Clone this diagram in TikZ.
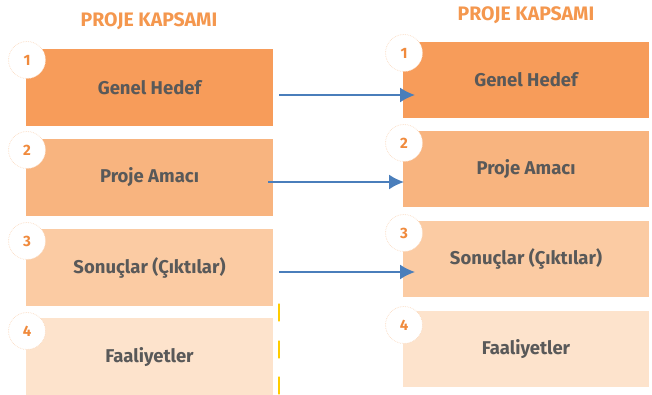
\documentclass[tikz,border=0pt]{standalone}
\usepackage{fontspec}
\setmainfont{Fira Sans}
\usetikzlibrary{arrows.meta}
\definecolor{c1}{HTML}{F79C5A}
\definecolor{c2}{HTML}{F8B47F}
\definecolor{c3}{HTML}{FBCBA3}
\definecolor{c4}{HTML}{FDE3CC}
\definecolor{ttl}{HTML}{F4974E}
\definecolor{txt}{HTML}{595959}
\definecolor{num}{HTML}{F08A3C}
\definecolor{arr}{HTML}{4A7EBB}
\definecolor{ylw}{HTML}{FFCC00}
\begin{document}
\begin{tikzpicture}[x=1pt,y=-1pt,
  box/.style={draw=none,minimum width=247pt,minimum height=77pt,inner sep=0pt,
    font=\fontsize{18.5}{21}\selectfont\bfseries,text=txt},
  numc/.style={circle,fill=white,draw=ttl!35,densely dotted,line width=0.7pt,
    minimum size=37pt,inner sep=0pt,font=\fontsize{15}{17}\selectfont\bfseries,text=num},
  ttlf/.style={font=\fontsize{19.5}{22}\selectfont\bfseries,text=ttl},
  conn/.style={draw=arr,line width=1.7pt,-{Latex[length=15pt,width=15pt]}}]
\useasboundingbox (0,0) rectangle (652,395);
% left column
\node[ttlf] (tl) at (149,21) {PROJE KAPSAMI};
\node[box,fill=c1] (l1) at (149.5,87.5) {Genel Hedef};
\node[box,fill=c2] (l2) at (149.5,177.5) {Proje Amacı};
\node[box,fill=c3] (l3) at (149.5,267.5) {Sonuçlar (Çıktılar)};
\node[box,fill=c4,minimum height=78pt] (l4) at (149.5,357) {Faaliyetler};
\node[numc] (n1) at (27,60) {1};
\node[numc] (n2) at (27,150) {2};
\node[numc] (n3) at (27,241) {3};
\node[numc] (n4) at (27,331) {4};
% right column
\node[ttlf] (tr) at (526,15) {PROJE KAPSAMI};
\node[box,fill=c1,minimum width=246pt,minimum height=76pt] (r1) at (526,80) {Genel Hedef};
\node[box,fill=c2,minimum width=246pt,minimum height=76pt] (r2) at (526,169) {Proje Amacı};
\node[box,fill=c3,minimum width=246pt,minimum height=76pt] (r3) at (526,259) {Sonuçlar (Çıktılar)};
\node[box,fill=c4,minimum width=246pt,minimum height=76pt] (r4) at (526,349) {Faaliyetler};
\node[numc] (m1) at (404,53) {1};
\node[numc] (m2) at (404,143) {2};
\node[numc] (m3) at (404,233) {3};
\node[numc] (m4) at (404,325) {4};
% connectors
\coordinate (a1) at (279,95);
\coordinate (b1) at (415,95);
\coordinate (a2) at (268,182);
\coordinate (b2) at (404,182);
\coordinate (a3) at (279,272);
\coordinate (b3) at (415,272);
\draw[conn] (a1) -- (b1);
\draw[conn] (a2) -- (b2);
\draw[conn] (a3) -- (b3);
% small yellow marks
\draw[ylw,line width=1.2pt,line cap=round] (279,304) -- (279,321);
\draw[ylw,line width=1.2pt,line cap=round] (279,341) -- (279,358);
\draw[ylw,line width=1.2pt,line cap=round] (279,377) -- (279,394);
\end{tikzpicture}
\end{document}
